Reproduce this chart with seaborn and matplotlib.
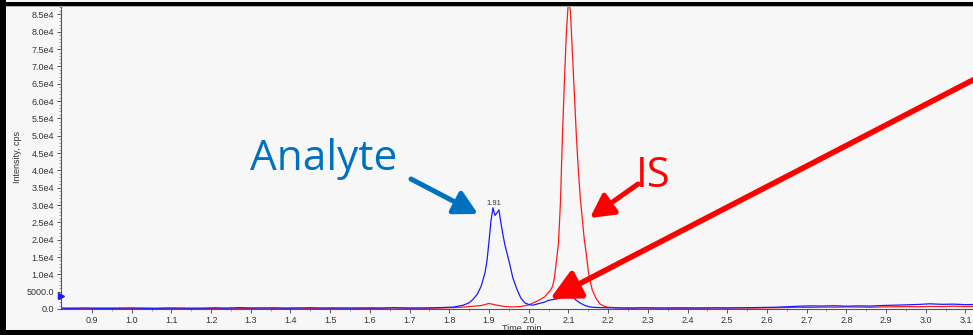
import matplotlib
matplotlib.use("Agg")
import matplotlib.pyplot as plt
import matplotlib.patches as mpatches
import numpy as np
import pandas as pd
import seaborn as sns

# ---------------- data ----------------
analyte_time = [0.82, 0.85, 0.88, 0.91, 0.94, 0.97, 1.00, 1.03, 1.06, 1.09, 1.12, 1.15, 1.18,
                1.21, 1.24, 1.27, 1.30, 1.33, 1.36, 1.39, 1.42, 1.45, 1.48, 1.51, 1.54, 1.57,
                1.60, 1.63, 1.66, 1.69, 1.72, 1.75, 1.78, 1.81, 1.82, 1.835, 1.85, 1.86, 1.87,
                1.88, 1.89, 1.895, 1.90, 1.905, 1.91, 1.915, 1.92, 1.925, 1.93, 1.935, 1.94,
                1.95, 1.96, 1.97, 1.98, 1.99, 2.00, 2.01, 2.02, 2.03, 2.04, 2.05, 2.06, 2.07,
                2.08, 2.09, 2.10, 2.11, 2.12, 2.13, 2.14, 2.15, 2.16, 2.18, 2.20, 2.23, 2.26,
                2.29, 2.32, 2.35, 2.38, 2.41, 2.44, 2.47, 2.50, 2.53, 2.56, 2.59, 2.62, 2.65,
                2.68, 2.71, 2.74, 2.77, 2.80, 2.83, 2.86, 2.89, 2.92, 2.95, 2.98, 3.01, 3.04,
                3.07, 3.10, 3.12]
analyte_intensity = [250, 180, 300, 220, 150, 260, 310, 200, 170, 240, 280, 190, 230,
                     350, 210, 400, 300, 260, 330, 220, 280, 360, 250, 300, 230, 270,
                     320, 260, 380, 300, 270, 340, 420, 550, 750, 1100, 1800, 2800, 4200,
                     6500, 10500, 14000, 19500, 25500, 29200, 27000, 27700, 28600, 24800, 21500, 18500,
                     14000, 9000, 5800, 3200, 1800, 1300, 1100, 1400, 1700, 2000, 2500, 2700, 2900,
                     3300, 3700, 4000, 3500, 2500, 1700, 1100, 700, 500, 400, 350, 300, 280,
                     350, 300, 260, 320, 280, 300, 340, 300, 360, 400, 450, 500, 650,
                     800, 900, 850, 950, 800, 900, 850, 1000, 1100, 1200, 1300, 1500, 1350,
                     1400, 1250, 1300]

is_time = [0.82, 0.85, 0.88, 0.91, 0.94, 0.97, 1.00, 1.03, 1.06, 1.09, 1.12, 1.15, 1.18,
           1.21, 1.24, 1.27, 1.30, 1.33, 1.36, 1.39, 1.42, 1.45, 1.48, 1.51, 1.54, 1.57,
           1.60, 1.63, 1.66, 1.69, 1.72, 1.75, 1.78, 1.81, 1.84, 1.86, 1.88, 1.90, 1.92,
           1.94, 1.96, 1.98, 2.00, 2.02, 2.03, 2.04, 2.05, 2.055, 2.06, 2.065, 2.07, 2.075,
           2.08, 2.085, 2.09, 2.095, 2.10, 2.105, 2.11, 2.115, 2.12, 2.125, 2.13, 2.135,
           2.14, 2.145, 2.15, 2.155, 2.16, 2.17, 2.18, 2.19, 2.20, 2.23, 2.26, 2.29, 2.32,
           2.35, 2.38, 2.41, 2.44, 2.47, 2.50, 2.53, 2.56, 2.59, 2.62, 2.65, 2.68, 2.71,
           2.74, 2.77, 2.80, 2.83, 2.86, 2.89, 2.92, 2.95, 2.98, 3.01, 3.04, 3.07, 3.10, 3.12]
is_intensity = [150, 250, 120, 200, 280, 160, 100, 230, 190, 260, 140, 210, 170,
                120, 250, 200, 150, 300, 180, 220, 260, 150, 230, 190, 280, 210,
                160, 240, 300, 200, 260, 220, 300, 400, 600, 800, 1000, 1600, 1100,
                700, 600, 700, 1200, 2200, 2800, 3500, 4800, 5500, 6500, 9000, 14000, 19000,
                31000, 50000, 66000, 80000, 89000, 86000, 74000, 62000, 50000, 40000, 32000, 26000,
                20000, 16000, 11000, 8000, 5500, 3000, 1400, 800, 500, 300, 250, 300, 250,
                280, 220, 260, 240, 300, 260, 300, 280, 320, 350, 400, 500, 450,
                550, 500, 600, 550, 500, 600, 650, 700, 650, 750, 700, 800, 700, 750]

x_ticks = [0.9, 1.0, 1.1, 1.2, 1.3, 1.4, 1.5, 1.6, 1.7, 1.8, 1.9, 2.0, 2.1, 2.2, 2.3, 2.4,
           2.5, 2.6, 2.7, 2.8, 2.9, 3.0, 3.1]
x_tick_labels = ["0.9", "1.0", "1.1", "1.2", "1.3", "1.4", "1.5", "1.6", "1.7", "1.8", "1.9",
                 "2.0", "2.1", "2.2", "2.3", "2.4", "2.5", "2.6", "2.7", "2.8", "2.9", "3.0", "3.1"]
y_ticks = [0, 5000, 10000, 15000, 20000, 25000, 30000, 35000, 40000, 45000, 50000, 55000,
           60000, 65000, 70000, 75000, 80000, 85000]
y_tick_labels = ["0.0", "5000.0", "1.0e4", "1.5e4", "2.0e4", "2.5e4", "3.0e4", "3.5e4", "4.0e4",
                 "4.5e4", "5.0e4", "5.5e4", "6.0e4", "6.5e4", "7.0e4", "7.5e4", "8.0e4", "8.5e4"]
peak_labels = [("1.91", 1.912, 30400), ("2.10", 2.100, 5000)]
threshold_marker = 3800

# ---------------- figure ----------------
W, H = 973, 335
BG = "#f7f7f7"
sns.set_theme(style="white")
plt.rcParams["font.family"] = ["Liberation Sans", "DejaVu Sans"]

fig = plt.figure(figsize=(W / 100, H / 100), dpi=100, facecolor=BG)
ax_left, ax_right, ax_bottom, ax_top = 61, 973, 309, 4
ax = fig.add_axes([ax_left / W, (H - ax_bottom) / H, (ax_right - ax_left) / W, (ax_bottom - ax_top) / H])
ax.set_facecolor(BG)

df = pd.concat([
    pd.DataFrame({"time": is_time, "intensity": is_intensity, "trace": "IS"}),
    pd.DataFrame({"time": analyte_time, "intensity": analyte_intensity, "trace": "Analyte"}),
])
sns.lineplot(data=df, x="time", y="intensity", hue="trace", hue_order=["IS", "Analyte"],
             palette={"IS": "#ff1a1a", "Analyte": "#1a1aff"}, estimator=None, sort=False,
             legend=False, linewidth=0.9, ax=ax)

ax.set_xlim(0.822, 3.119)
ax.set_ylim(0, 88000)
ax.set_xlabel("")
ax.set_ylabel("")
for s in ["top", "right"]:
    ax.spines[s].set_visible(False)
for s in ["left", "bottom"]:
    ax.spines[s].set_color("#555555")
    ax.spines[s].set_linewidth(0.8)

ax.set_xticks(x_ticks)
ax.set_xticklabels(x_tick_labels)
ax.set_yticks(y_ticks)
ax.set_yticklabels(y_tick_labels)
ax.set_xticks(np.array(x_ticks[:-1]) + 0.05, minor=True)
ax.set_yticks(np.arange(0, 88000, 1000), minor=True)
ax.tick_params(axis="both", which="major", direction="out", length=3, width=0.7,
               colors="#555555", labelcolor="#333333", labelsize=6.5, pad=2,
               bottom=True, left=True)
ax.tick_params(axis="both", which="minor", direction="out", length=1.5, width=0.5,
               colors="#777777", bottom=True, left=True)

# threshold marker on y axis
ax.plot([ax.get_xlim()[0]], [threshold_marker], marker=">", color="#1a1aff", markersize=4,
        clip_on=False, zorder=6)

for txt, x, y in peak_labels:
    ax.text(x, y, txt, ha="center", va="center", fontsize=5.5, color="#333333", zorder=3)

fig.text(18 / W, 1 - 157 / H, "Intensity, cps", rotation=90, ha="center", va="center",
         fontsize=6.5, color="#333333")
fig.text(522 / W, 1 - 328 / H, "Time, min", ha="center", va="center", fontsize=6.5,
         color="#333333")

# ---------------- annotations ----------------
def px(x, y):
    return (x, H - y)

def arrow(tail, tip, color, lw, hl, hw):
    ax.annotate("", xy=px(*tip), xytext=px(*tail), xycoords="figure pixels",
                textcoords="figure pixels", annotation_clip=False,
                arrowprops=dict(arrowstyle=f"-|>,head_length={hl},head_width={hw}",
                                color=color, lw=lw, shrinkA=0, shrinkB=0,
                                mutation_scale=10), zorder=8)

blue_c = "#0070c0"
red_c = "#ff0000"
arrow((411, 179), (478, 214), blue_c, 3.6, 1.4, 0.75)
arrow((638, 184), (590, 218), red_c, 3.6, 1.4, 0.75)
arrow((1000, 66), (550, 299), red_c, 4.0, 1.8, 0.9)

fig.text(250 / W, 1 - 170 / H, "Analyte", fontsize=30.5, color=blue_c,
         family=["Open Sans", "DejaVu Sans"], ha="left", va="baseline")
fig.text(636 / W, 1 - 187 / H, "IS", fontsize=30, color=red_c,
         family=["Open Sans", "DejaVu Sans"], ha="left", va="baseline")

# ---------------- screenshot frame ----------------
def frame_rect(x0, y0, x1, y1, color):
    fig.add_artist(mpatches.Rectangle((x0 / W, 1 - y1 / H), (x1 - x0) / W, (y1 - y0) / H,
                                      transform=fig.transFigure, color=color, lw=0, zorder=20))

frame_rect(0, 2, W, 6, "black")
frame_rect(0, 6, W, 7, "#b0b0b0")
frame_rect(0, 0, 6, H, "black")
frame_rect(0, 330, W, H, "black")

fig.savefig("out.png", dpi=100, facecolor=BG)
